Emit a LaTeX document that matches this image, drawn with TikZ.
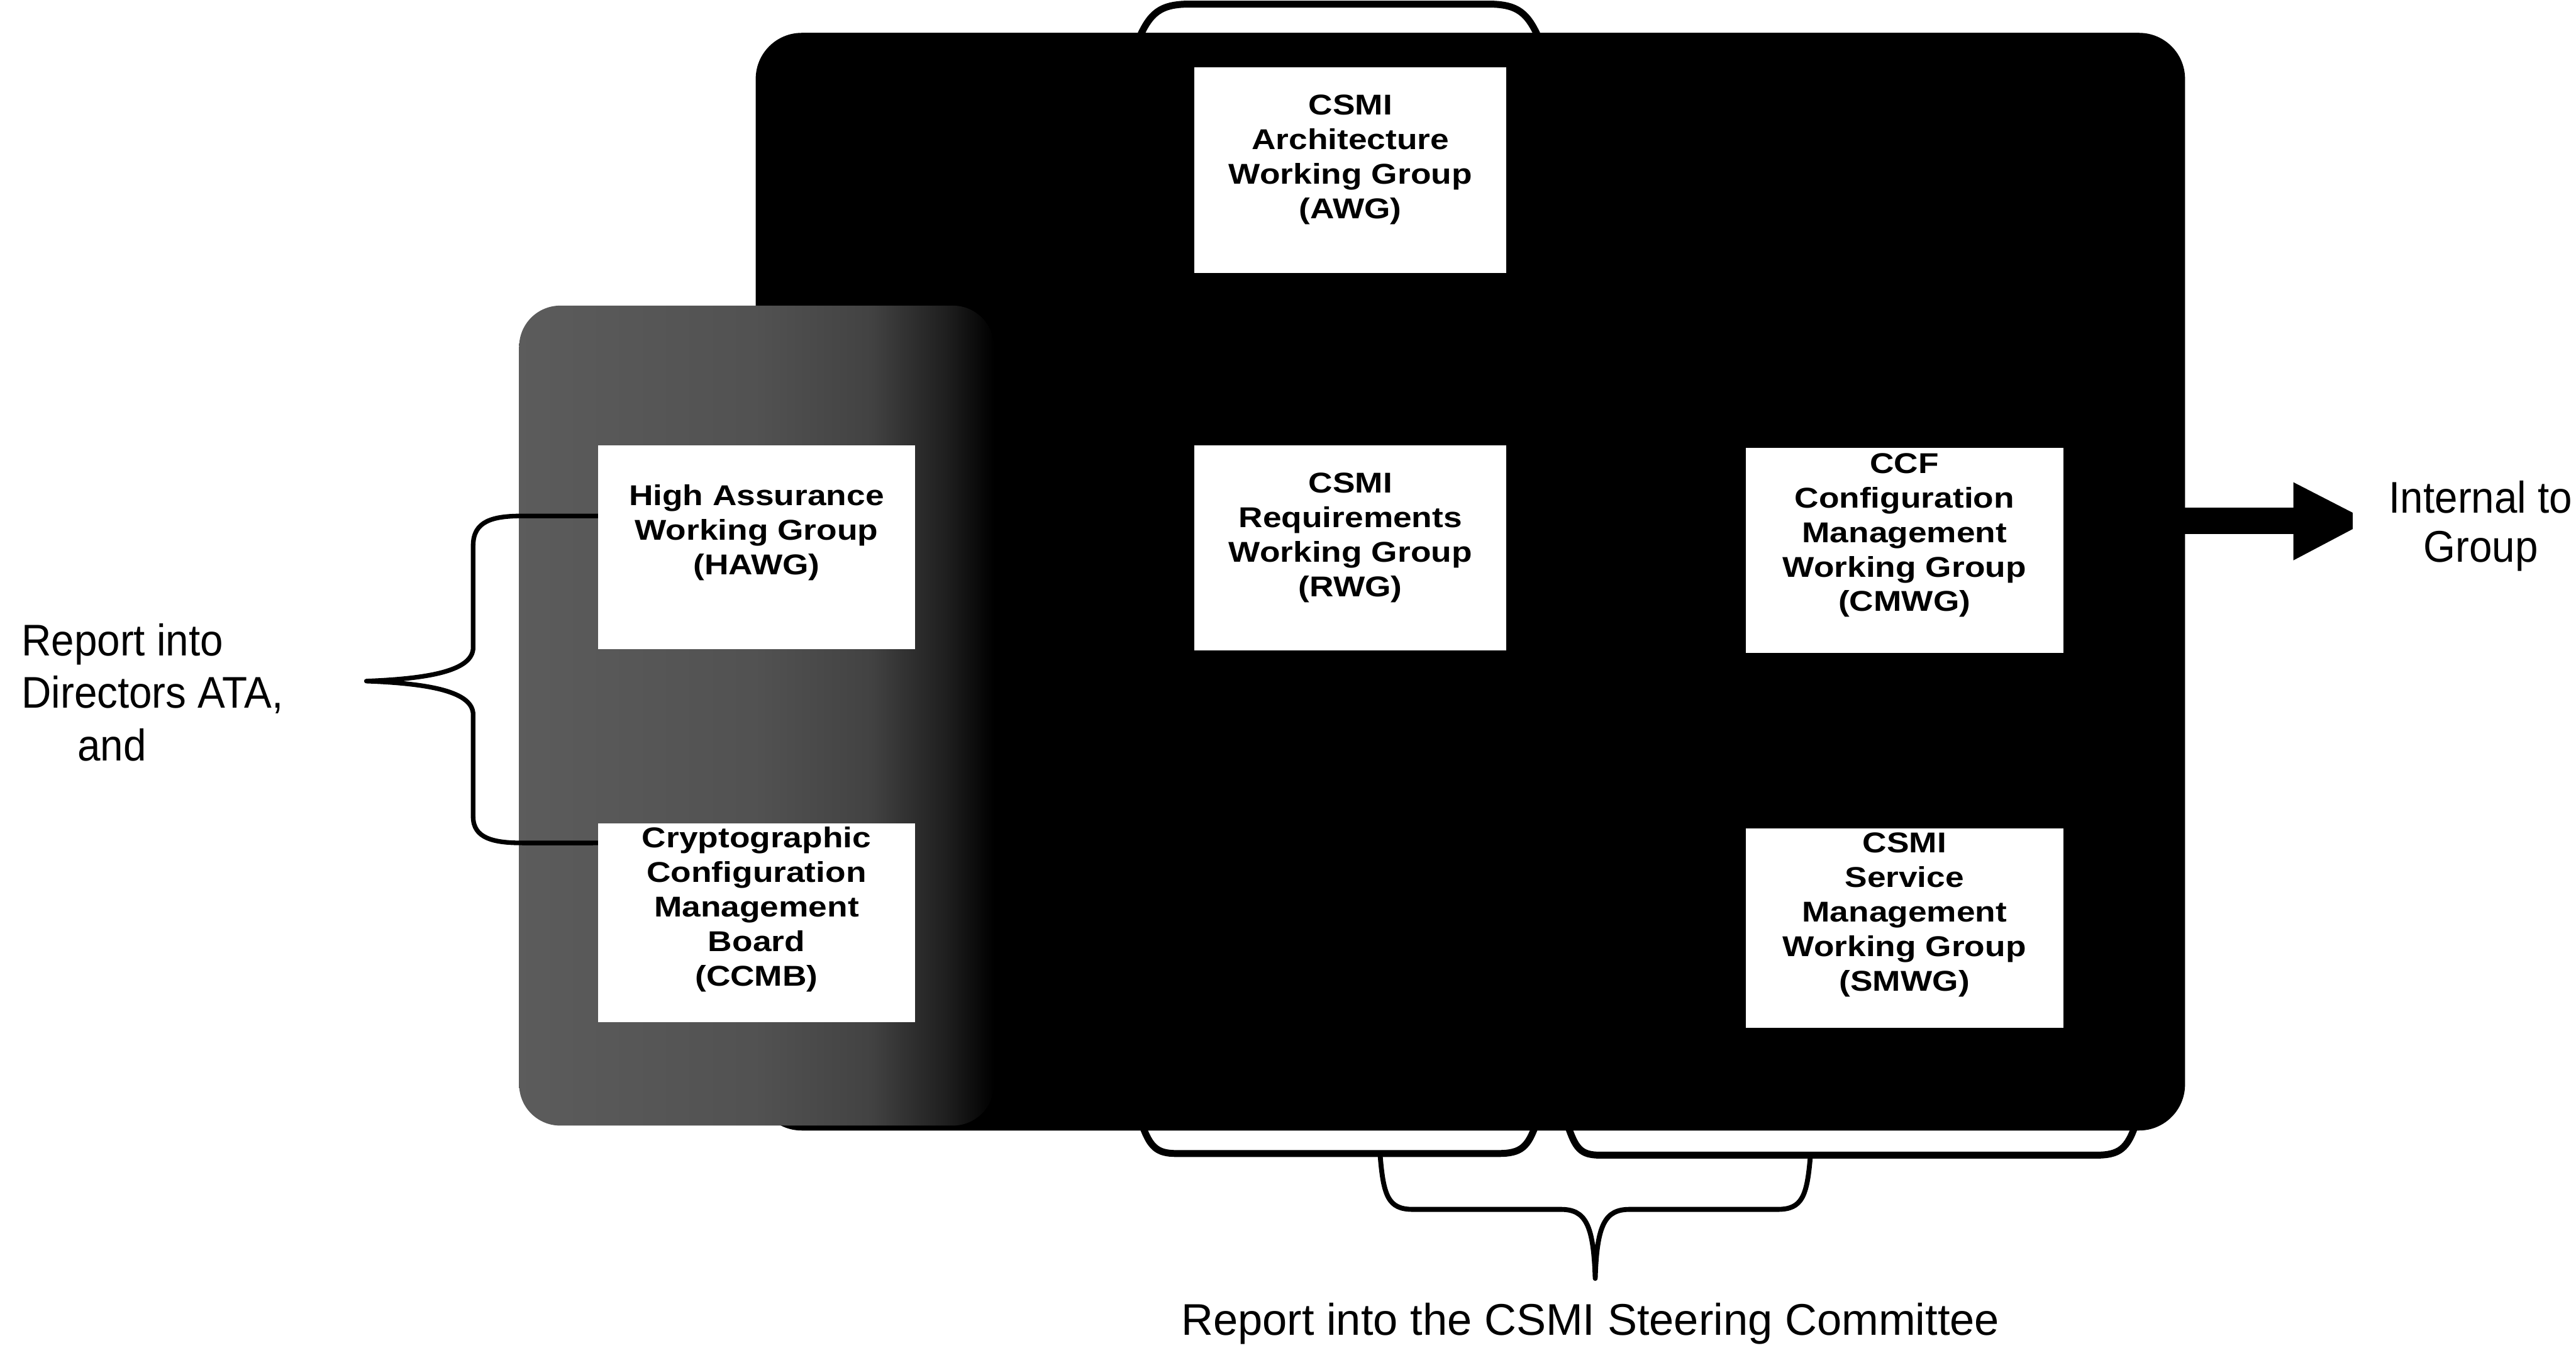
\documentclass[tikz,border=0pt]{standalone}
\usepackage{fontspec}
\usetikzlibrary{calc}
\setmainfont{Liberation Sans}
\newfontfamily\boxfont[FakeStretch=1.17]{Liberation Sans}
\newfontfamily\narrowfont[FakeStretch=0.93]{Liberation Sans}
\newcommand{\wgtext}[4]{\parbox[c][#2][t]{#1}{\centering\rule{0pt}{#3}#4\par}}
\pgfdeclarehorizontalshading{greyfade}{100bp}{color(0bp)=(black!64); color(25bp)=(black!64);
  color(50bp)=(black!68); color(62bp)=(black!74); color(70bp)=(black!88); color(75bp)=(black); color(100bp)=(black)}
\tikzset{
  wg/.style={fill=white, draw=none, inner sep=0pt, outer sep=0pt,
    font=\boxfont\bfseries\fontsize{24.8pt}{29.9pt}\selectfont},
  loopline/.style={line width=2.1mm, line join=round},
  braceline/.style={line width=1.5mm, line join=round},
  sidebrace/.style={line width=1.4mm, line join=round},
}
\begin{document}
\begin{tikzpicture}[x=0.5mm,y=-0.5mm]
\useasboundingbox (0,0) rectangle (1568,820);

% loops behind the main panel
\draw[loopline] (693,24) .. controls (700,8) and (706,2.5) .. (724,2.5) -- (906,2.5)
  .. controls (924,2.5) and (930,8) .. (937,24);
\draw[loopline] (695,684) .. controls (700,698) and (704,702) .. (716,702) -- (912,702)
  .. controls (926,702) and (930,698) .. (935,684);
\draw[loopline] (954,684) .. controls (959,699) and (962,703) .. (974,703) -- (1276,703)
  .. controls (1290,703) and (1295,699) .. (1300,684);

% main black panel
\node[fill=black, draw=none, rounded corners=14mm, minimum width=435mm,
  minimum height=334mm, inner sep=0pt] (main) at (895,354) {};

% grey speckled panel
\shade[shading=greyfade, rounded corners=12.5mm] (316,186) rectangle (605,685);

% working group boxes
\node[wg] (awg) at (822,103.5) {\wgtext{95mm}{62.5mm}{14.5mm}{CSMI\\Architecture\\Working Group\\(AWG)}};
\node[wg] (rwg) at (822,333.5) {\wgtext{95mm}{62.5mm}{14.5mm}{CSMI\\Requirements\\Working Group\\(RWG)}};
\node[wg] (hawg) at (460.5,333) {\wgtext{96.5mm}{62mm}{18.25mm}{High Assurance\\Working Group\\(HAWG)}};
\node[wg] (ccmb) at (460.5,561.5) {\wgtext{96.5mm}{60.5mm}{7.5mm}{Cryptographic\\Configuration\\Management\\Board\\(CCMB)}};
\node[wg] (cmwg) at (1159.25,335) {\wgtext{96.75mm}{62.5mm}{7.75mm}{CCF\\Configuration\\Management\\Working Group\\(CMWG)}};
\node[wg] (smwg) at (1159.25,564.75) {\wgtext{96.75mm}{60.75mm}{7.5mm}{CSMI\\Service\\Management\\Working Group\\(SMWG)}};

% texts
\node[anchor=base west, inner sep=0pt, font=\narrowfont\fontsize{38.4pt}{45.5pt}\selectfont]
  (lefttxt) at (13,399) {\parbox[t]{110mm}{\raggedright Report into\\Directors ATA,\\\hspace*{17mm}and}};
\node[anchor=base, inner sep=0pt, font=\narrowfont\fontsize{38.4pt}{42.7pt}\selectfont]
  (inttxt) at (1510,312) {\parbox[t]{70mm}{\centering Internal to\\Group}};
\node[anchor=base, inner sep=0pt, font=\fontsize{38.4pt}{45pt}\selectfont]
  (steer) at (968,812.6) {Report into the CSMI Steering Committee};

% left brace from HAWG and CCMB
\coordinate (lbtip) at (223,414.5);
\draw[sidebrace] ($(hawg.north west)+(0,43)$) -- (318,314)
  .. controls (300,314) and (288,317) .. (288,332) -- (288,394)
  .. controls (288,408) and (262,413) .. (lbtip)
  .. controls (262,416) and (288,421) .. (288,435) -- (288,497)
  .. controls (288,510) and (300,513) .. (318,513) -- ($(ccmb.north west)+(0,12)$);

% bottom brace
\coordinate (bbl) at (840,702);
\coordinate (bbr) at (1102,703);
\coordinate (bbtip) at (971,778);
\draw[braceline] (bbl) .. controls (842,728) and (845,736) .. (860,736) -- (950,736)
  .. controls (965,736) and (970,745) .. (bbtip)
  .. controls (972,745) and (977,736) .. (992,736) -- (1082,736)
  .. controls (1097,736) and (1100,728) .. (bbr);

% arrow to "Internal to Group"
\fill (1325,309) -- (1396,309) -- (1396,293.5) -- (1432,312) -- (1432,322)
  -- (1396,341) -- (1396,325) -- (1325,325) -- cycle;
\end{tikzpicture}
\end{document}
